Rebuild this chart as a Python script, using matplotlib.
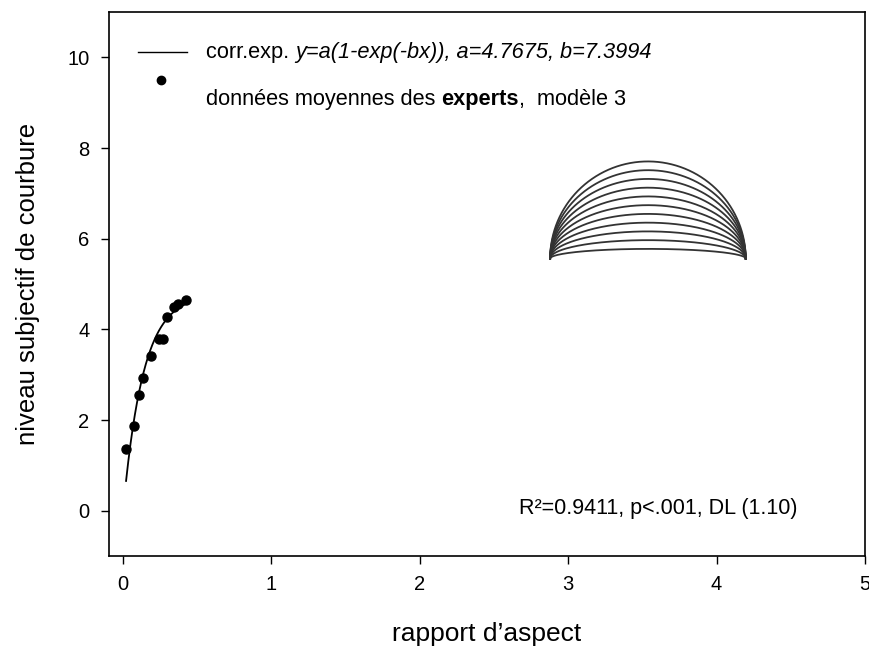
import numpy as np
import matplotlib
matplotlib.use("Agg")
import matplotlib.pyplot as plt

plt.rcParams['font.family'] = ['Liberation Sans', 'DejaVu Sans']

# data: mean expert ratings
x_data = [0.022, 0.074, 0.106, 0.133, 0.185, 0.245, 0.268, 0.295, 0.345, 0.372, 0.426]
y_data = [1.35, 1.86, 2.56, 2.92, 3.42, 3.78, 3.78, 4.28, 4.50, 4.56, 4.64]
a_fit, b_fit = 4.7675, 7.3994
fit_range = (0.02, 0.44)

# inset of arcs (flattening ratios)
arc_ratios = [1.0, 0.91, 0.82, 0.73, 0.64, 0.55, 0.46, 0.37, 0.28, 0.19, 0.10]
arc_center_x, arc_half_width, arc_base_y = 3.537, 0.659, 5.56

xticks = [0, 1, 2, 3, 4, 5]
yticks = [0, 2, 4, 6, 8, 10]

fig = plt.figure(figsize=(8.69, 6.53), dpi=100)
ax = fig.add_axes([109/869, (653-556)/653, (865-109)/869, (556-12)/653])
ax.set_xlim(-0.095, 5.0)
ax.set_ylim(-1.0, 11.0)

xf = np.linspace(fit_range[0], fit_range[1], 200)
ax.plot(xf, a_fit*(1-np.exp(-b_fit*xf)), color='black', lw=1.3)
ax.plot(x_data, y_data, 'o', color='black', ms=6.5)

# arcs: width in data x; height scaled to pixel aspect
px_per_x = 148.0
px_per_y = 45.5
r_pix = arc_half_width*px_per_x
t = np.linspace(0, np.pi, 200)
for r in arc_ratios:
    xs = arc_center_x + arc_half_width*np.cos(t)
    ys = arc_base_y + r*r_pix/px_per_y*np.sin(t)
    ax.plot(xs, ys, color='#333333', lw=1.3)

ax.set_xticks(xticks)
ax.set_yticks(yticks)
ax.tick_params(direction='out', length=6, width=1, labelsize=14.5, pad=8)
for s in ax.spines.values():
    s.set_linewidth(1.2)

ax.set_xlabel("rapport d\u2019aspect", fontsize=19, labelpad=20)
ax.set_ylabel("niveau subjectif de courbure", fontsize=18.5, labelpad=20)

# legend drawn manually
ax.plot([0.038, 0.103], [0.926, 0.926], transform=ax.transAxes, color='black', lw=1.0)
ax.plot([0.0688], [0.875], 'o', transform=ax.transAxes, color='black', ms=6)
fs = 15.7
t1 = ax.text(0.128, 0.926, "corr.exp. ", transform=ax.transAxes, fontsize=fs, va='center', ha='left')
ax.annotate("y=a(1-exp(-bx)), a=4.7675, b=7.3994", xy=(1, 0), xycoords=t1,
            fontsize=fs, style='italic', va='bottom', ha='left')
t2 = ax.text(0.128, 0.839, "donn\u00e9es moyennes des ", transform=ax.transAxes, fontsize=fs, va='center', ha='left')
t3 = ax.annotate("experts", xy=(1, 0), xycoords=t2, fontsize=fs, weight='bold', va='bottom', ha='left')
ax.annotate(",  mod\u00e8le 3", xy=(1, 0), xycoords=t3, fontsize=fs, va='bottom', ha='left')

ax.text(4.547, 0.04, "R\u00b2=0.9411, p<.001, DL (1.10)", fontsize=15.5, va='center', ha='right')

fig.savefig("out.png", dpi=100)
